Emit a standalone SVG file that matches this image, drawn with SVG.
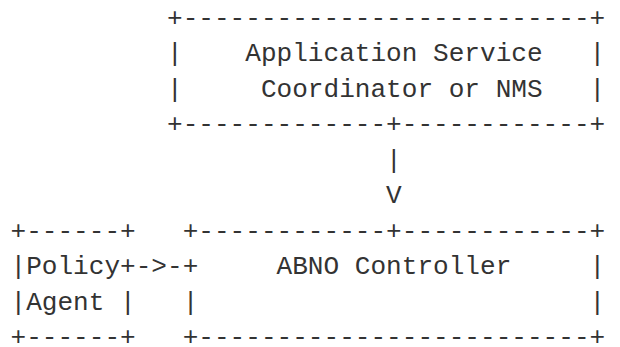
<svg xmlns="http://www.w3.org/2000/svg" width="620" height="347" viewBox="0 0 620 347">
<style>
text{font-family:"Liberation Mono","DejaVu Sans Mono",monospace;font-size:26.08px;fill:#333;white-space:pre}
</style>
<rect width="620" height="347" fill="#fff"/>
<g id="app-service-coordinator">
<text x="167" y="26">+--------------------------+</text>
<text x="167" y="61.45">|</text>
<text x="589.55" y="61.45">|</text>
<text x="167" y="96.9">|</text>
<text x="589.55" y="96.9">|</text>
<text x="167" y="132.35">+-------------+------------+</text>
<text x="245.25" y="61.45">Application Service</text>
<text x="260.9" y="96.9">Coordinator or NMS</text>
</g>
<g id="policy-agent">
<text x="10.5" y="238.7">+------+</text>
<text x="10.5" y="274.15">|Policy+</text>
<text x="10.5" y="309.6">|Agent |</text>
<text x="10.5" y="345.05">+------+</text>
</g>
<g id="abno-controller">
<text x="182.65" y="238.7">+------------+------------+</text>
<text x="182.65" y="274.15">+</text>
<text x="589.55" y="274.15">|</text>
<text x="182.65" y="309.6">|</text>
<text x="589.55" y="309.6">|</text>
<text x="182.65" y="345.05">+-------------------------+</text>
<text x="276.55" y="274.15">ABNO Controller</text>
</g>
<g id="connectors">
<text x="386.1" y="167.8">|</text>
<text x="386.1" y="203.25">V</text>
<text x="135.7" y="274.15">-&gt;-</text>
</g>
</svg>
